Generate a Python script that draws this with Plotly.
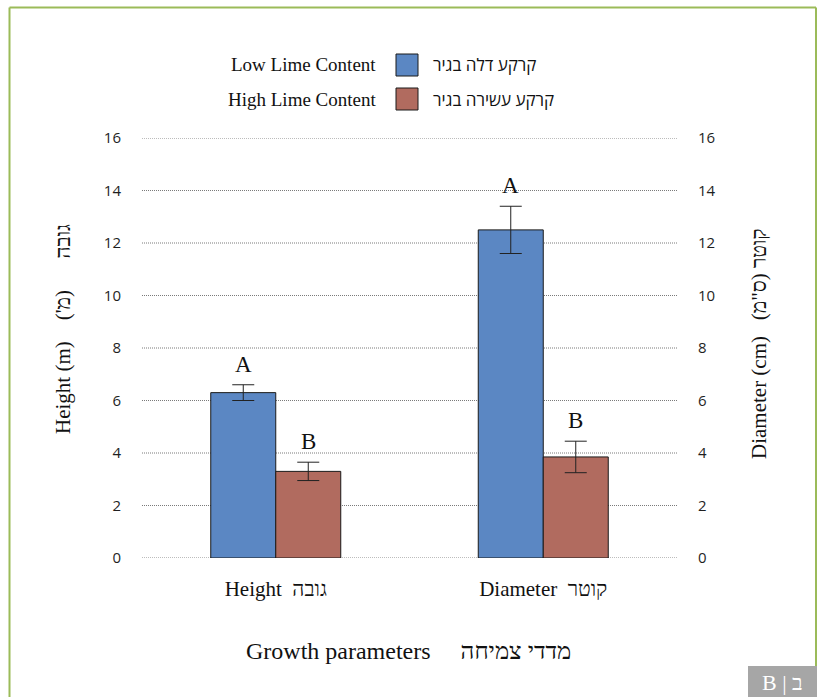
import plotly.graph_objects as go

# Growth parameters measured on the two soil types
categories = ["Height\u00a0\u00a0גובה", "Diameter\u00a0\u00a0קוטר"]
low_lime = [6.3, 12.5]
low_lime_err = [0.3, 0.9]
high_lime = [3.3, 3.85]
high_lime_err = [0.35, 0.6]
low_letters = ["A", "A"]
high_letters = ["B", "B"]

series_en = ["Low Lime Content", "High Lime Content"]
series_he = ["קרקע דלה בגיר", "קרקע עשירה בגיר"]
colors = ["#5B87C3", "#B16B5F"]
tick_vals = [0, 2, 4, 6, 8, 10, 12, 14, 16]

W, H = 824, 697
L, R, T, B = 142, 147, 138, 139
PW, PH = W - L - R, H - T - B


def px_x(x):
    return (x - L) / PW


def px_y(y):
    return (H - B - y) / PH


SERIF = "Liberation Serif, Times New Roman, serif"
SANS = "Open Sans, Noto Sans, sans-serif"
INK = "#111111"

fig = go.Figure()
for vals, errs, color, name in [
    (low_lime, low_lime_err, colors[0], series_en[0]),
    (high_lime, high_lime_err, colors[1], series_en[1]),
]:
    fig.add_trace(go.Bar(
        x=categories, y=vals, name=name,
        marker=dict(color=color, line=dict(color="#1a1a1a", width=1)),
        error_y=dict(type="data", array=errs, color="#222222",
                     thickness=1, width=11),
        showlegend=False,
    ))

# Empty trace so the secondary (diameter) axis is drawn
fig.add_trace(go.Scatter(x=[], y=[], yaxis="y2", showlegend=False,
                         hoverinfo="skip"))

# Significance letters above the error bars
annotations = []
for letters, vals, errs, shift in [
    (low_letters, low_lime, low_lime_err, -32.5),
    (high_letters, high_lime, high_lime_err, 32.5),
]:
    for cat, letter, v, e in zip(categories, letters, vals, errs):
        annotations.append(dict(
            x=cat, y=v + e, xref="x", yref="y", text=letter,
            showarrow=False, xshift=shift, yanchor="bottom", yshift=6,
            font=dict(family=SERIF, size=23, color=INK),
        ))


def paper_note(x, y, text, size, family=SERIF, color=INK, angle=0,
               xanchor="center"):
    return dict(x=px_x(x), y=px_y(y), xref="paper", yref="paper", text=text,
                textangle=angle, showarrow=False, xanchor=xanchor,
                yanchor="middle", font=dict(family=family, size=size,
                                            color=color))


NB = "\u00a0"
# Axis titles
annotations += [
    paper_note(63, 329,
               "Height (m)" + NB * 4 + "\u202bגובה" + NB * 6 + "(מ')\u202c",
               21, angle=-90),
    paper_note(759, 344,
               "Diameter (cm)" + NB * 3 + "\u202bקוטר (ס\"מ)\u202c",
               21, angle=-90),
    paper_note(408, 651,
               "Growth parameters" + NB * 5 + "מדדי צמיחה", 24),
]

# Dotted horizontal gridlines at every tick value
shapes = [
    dict(type="line", xref="paper", yref="y", x0=0, x1=1, y0=v, y1=v,
         layer="below", line=dict(color="#7a7a7a", width=1, dash="1px,1px"))
    for v in tick_vals
]

# Legend drawn as swatches with bilingual labels
for i, (en, he, color) in enumerate(zip(series_en, series_he, colors)):
    yc = 65 + i * 34
    shapes.append(dict(type="rect", xref="paper", yref="paper",
                       x0=px_x(396), x1=px_x(418),
                       y0=px_y(yc - 11), y1=px_y(yc + 11),
                       fillcolor=color, line=dict(color="#1a1a1a", width=1)))
    annotations.append(paper_note(378, yc, en, 19, xanchor="right"))
    annotations.append(paper_note(431, yc, he, 17, family=SANS,
                                  xanchor="left"))

# Green page frame and corner tab
frame = "#9BBB59"
shapes += [
    dict(type="line", xref="paper", yref="paper", x0=px_x(9.5), x1=px_x(9.5),
         y0=px_y(7.5), y1=px_y(700), line=dict(color=frame, width=2)),
    dict(type="line", xref="paper", yref="paper", x0=px_x(9.5), x1=px_x(816),
         y0=px_y(7.5), y1=px_y(7.5), line=dict(color=frame, width=2)),
    dict(type="line", xref="paper", yref="paper", x0=px_x(816), x1=px_x(816),
         y0=px_y(7.5), y1=px_y(666), line=dict(color=frame, width=2)),
    dict(type="rect", xref="paper", yref="paper", x0=px_x(748), x1=px_x(817),
         y0=px_y(666), y1=px_y(700), fillcolor="#A6A6A6", line=dict(width=0)),
]
annotations.append(paper_note(782, 682, "B | ב", 22, color="#ffffff"))

yaxis_common = dict(
    range=[0, 16], tickvals=tick_vals, zeroline=False, showline=False,
    showgrid=False, ticks="", ticklabelstandoff=20,
    tickfont=dict(family=SANS, size=15, color="#1f1f1f"),
)

fig.update_layout(
    width=W, height=H,
    margin=dict(l=L, r=R, t=T, b=B),
    paper_bgcolor="white", plot_bgcolor="white",
    barmode="group", bargap=0.514, bargroupgap=0,
    xaxis=dict(showgrid=False, zeroline=False, showline=False, ticks="",
               ticklabelstandoff=16,
               tickfont=dict(family=SERIF, size=21, color=INK)),
    yaxis=dict(**yaxis_common),
    yaxis2=dict(**yaxis_common, overlaying="y", side="right", anchor="x",
                matches="y"),
    annotations=annotations,
    shapes=shapes,
)

fig.write_html("out.html")
